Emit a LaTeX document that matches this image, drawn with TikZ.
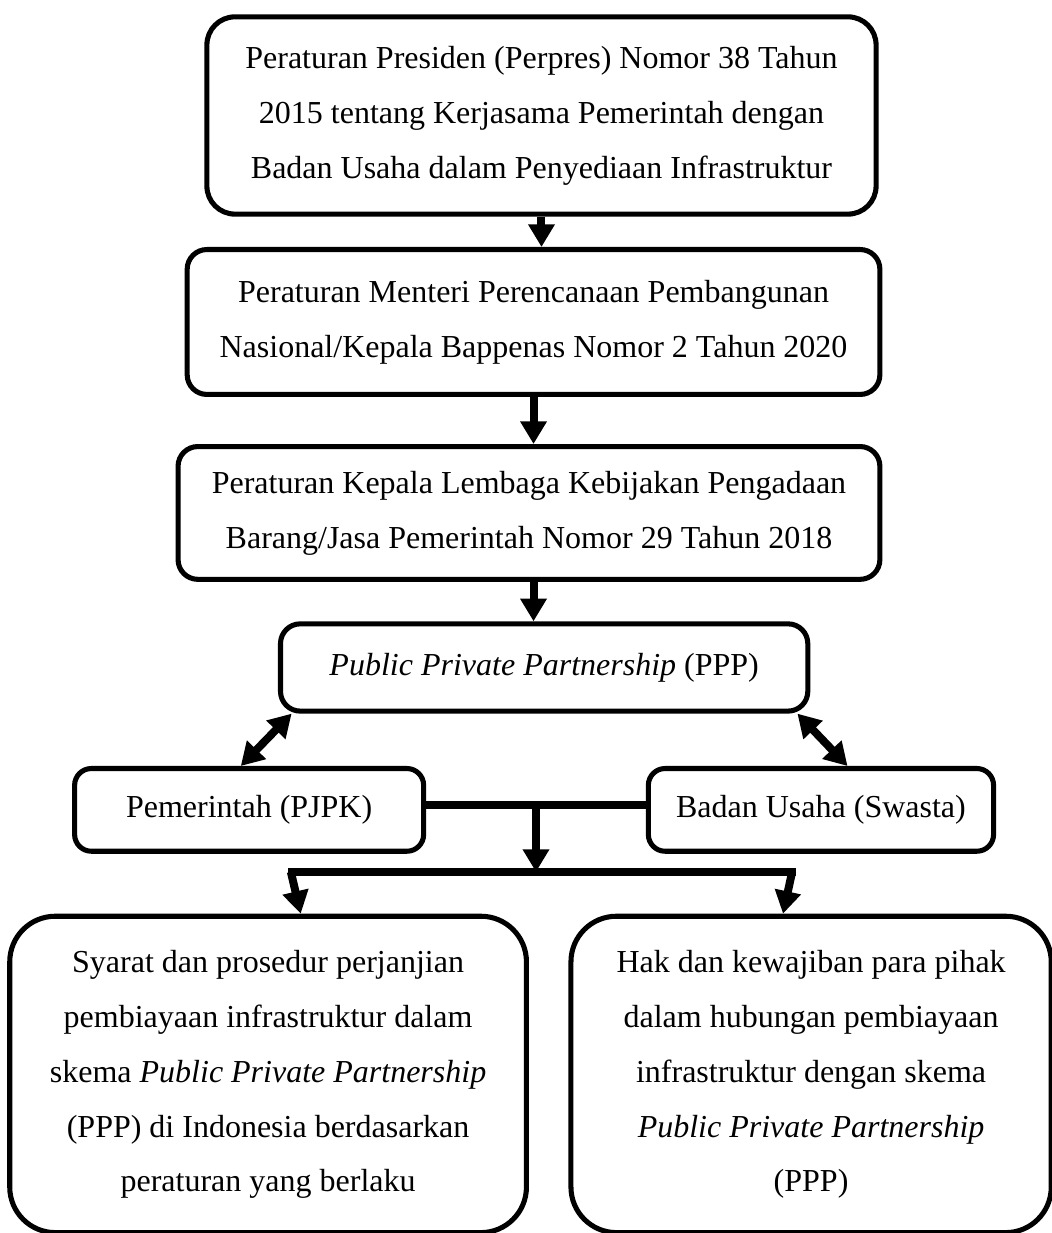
\documentclass[tikz,border=0pt]{standalone}
\usepackage{fontspec}
\setmainfont{Liberation Serif}
\usetikzlibrary{positioning, arrows.meta}

\begin{document}
\begin{tikzpicture}[
        % Teks default: serif 12pt, spasi 1.5
        every node/.style={font=\fontsize{12}{20.6}\selectfont},
        % Kotak dasar dengan sudut membulat
        box/.style={draw, line width=1.9pt, rounded corners=0.26cm, align=center, inner sep=0pt},
        % Panah tebal
        arrow/.style={->, line width=3pt, >={Triangle[width=9.5pt, length=8.5pt]}},
        % Garis penghubung tanpa panah
        link/.style={line width=3pt}
    ]
    \useasboundingbox (-7.137,1.522) rectangle (6.728,-14.729);

    % --- Dasar hukum ---
    \node[box, rounded corners=0.37cm, minimum width=8.82cm, minimum height=2.6cm] (perpres) {Peraturan Presiden (Perpres) Nomor 38 Tahun\\2015 tentang Kerjasama Pemerintah dengan\\Badan Usaha dalam Penyediaan Infrastruktur};
    \node[box, below=0.40cm of perpres, xshift=-0.105cm, minimum width=9.13cm, minimum height=1.91cm] (permen) {Peraturan Menteri Perencanaan Pembangunan\\Nasional/Kepala Bappenas Nomor 2 Tahun 2020};
    \node[box, below=0.62cm of permen, xshift=-0.06cm, minimum width=9.25cm, minimum height=1.75cm] (perka) {Peraturan Kepala Lembaga Kebijakan Pengadaan\\Barang/Jasa Pemerintah Nomor 29 Tahun 2018};

    % --- PPP dan para pihak ---
    \node[box, below=0.52cm of perka, xshift=0.2cm, minimum width=6.95cm, minimum height=1.15cm] (ppp) {\textit{Public Private Partnership} (PPP)};
    \node[box, rounded corners=0.22cm, below=0.69cm of ppp.south west, xshift=-0.38cm, minimum width=4.6cm, minimum height=1.09cm] (pjpk) {Pemerintah (PJPK)};
    \node[box, rounded corners=0.22cm, below=0.69cm of ppp.south east, xshift=0.14cm, minimum width=4.55cm, minimum height=1.09cm] (swasta) {Badan Usaha (Swasta)};

    % --- Hasil ---
    \node[box, rounded corners=0.6cm, below=0.79cm of pjpk, xshift=0.25cm, minimum width=6.81cm, minimum height=4.17cm] (syarat) {Syarat dan prosedur perjanjian\\pembiayaan infrastruktur dalam\\skema \textit{Public Private Partnership}\\(PPP) di Indonesia berdasarkan\\peraturan yang berlaku};
    \node[box, rounded corners=0.6cm, below=0.79cm of swasta, xshift=-0.13cm, minimum width=6.33cm, minimum height=4.17cm] (hak) {Hak dan kewajiban para pihak\\dalam hubungan pembiayaan\\infrastruktur dengan skema\\\textit{Public Private Partnership}\\(PPP)};

    % --- Panah ---
    \draw[arrow] (perpres.south) -- (perpres.south |- permen.north);
    \draw[arrow] (permen.south) -- (permen.south |- perka.north);
    \draw[arrow] (permen.south |- perka.south) -- (permen.south |- ppp.north);

    \draw[arrow, <->] ([xshift=0.18cm]ppp.south west) -- ([xshift=-0.11cm]pjpk.north);
    \draw[arrow, <->] ([xshift=-0.17cm]ppp.south east) -- ([xshift=0.35cm]swasta.north);

    % Penghubung pemerintah - badan usaha, lalu turun ke bus
    \draw[link] ([yshift=0.07cm]pjpk.east) -- ([yshift=0.07cm]swasta.west) coordinate[midway] (mid);
    \coordinate (busL) at ([yshift=0.55cm, xshift=0.26cm]syarat.north);
    \coordinate (busR) at ([yshift=0.55cm, xshift=-0.2cm]hak.north);
    \draw[link] (busL) -- (busR);
    \draw[arrow] (mid) -- (mid |- busL);
    \draw[arrow] ([xshift=0.04cm]busL) -- ([xshift=0.43cm]syarat.north);
    \draw[arrow] ([xshift=-0.05cm]busR) -- ([xshift=-0.37cm]hak.north);

\end{tikzpicture}
\end{document}
